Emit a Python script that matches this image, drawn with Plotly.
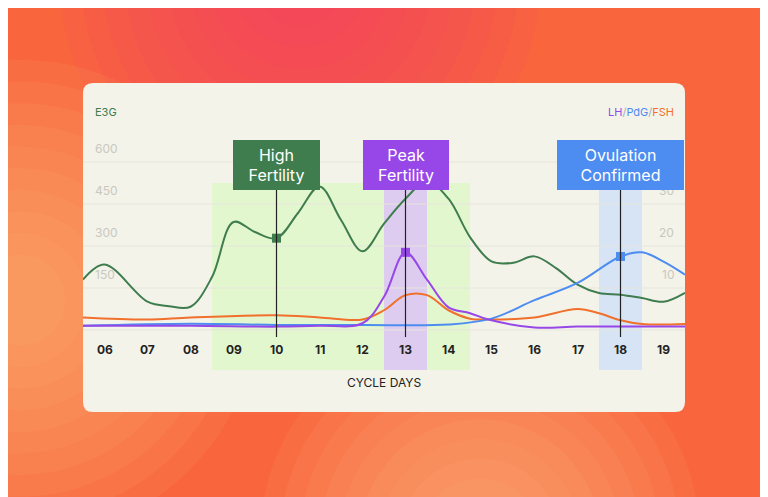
import plotly.graph_objects as go

e3g_x = [5.5,6,7,7.5,8,8.5,9,9.5,10,10.5,11,11.5,12,12.5,13,13.5,14,14.5,15,15.5,16,16.5,17,17.5,18,18.5,19,19.5]
e3g_y = [180,234,101,85,83,189,386,350,328,418,513,393,281,380,469,531,469,332,245,240,263,221,162,132,126,114,101,133]
lh_x = [5.5,8,10,11,12,12.5,13,13.5,14,14.5,15,16,17,18,19.5]
lh_y = [1,1,0.8,1,1.6,7.9,18.5,12,5.4,4,2.3,0.6,0.8,0.8,0.8]
fsh_x = [5.5,7,8,10,11,12,12.5,13,13.5,14,14.5,15,16,17,17.5,18,18.5,19.5]
fsh_y = [3,2.5,3,3.5,3,2.5,4.7,8.3,8.3,4.7,2.7,2.5,3,5,4,2.3,1.4,1.4]
pdg_x = [5.5,8,10,12,14,15,16,17,18,18.5,19,19.5]
pdg_y = [1,1.5,1.2,1.2,1.3,2.7,7.1,11.2,17.5,18.5,16.3,13.2]
days = ["06","07","08","09","10","11","12","13","14","15","16","17","18","19"]
left_ticks = [150,300,450,600]
right_ticks = [10,20,30]

GREEN, PURPLE, BLUE, ORANGE = "#3f7d4f", "#9747e8", "#4d8cf0", "#f0702c"
fig = go.Figure()
shapes = []
def blob(cx, cy, r, color, n=10, op=0.09):
    for i in range(n):
        rr = r*(1-i*0.09)
        shapes.append(dict(type="circle", xref="paper", yref="paper", layer="below",
            x0=(cx-rr-83)/602, x1=(cx+rr-83)/602, y0=(370-cy-rr)/246, y1=(370-cy+rr)/246,
            fillcolor=color, opacity=op, line_width=0))
blob(300, -20, 240, "#f2386e")
blob(20, 300, 240, "#fbc277")
blob(480, 540, 220, "#fdba8a")
dx, dy = 10/602, 10/246
x0, x1, y0, y1 = 0, 1, -0.171, 1.167
path = (f"M {x0+dx},{y0} L {x1-dx},{y0} Q {x1},{y0} {x1},{y0+dy} L {x1},{y1-dy} Q {x1},{y1} {x1-dx},{y1} "
        f"L {x0+dx},{y1} Q {x0},{y1} {x0},{y1-dy} L {x0},{y0+dy} Q {x0},{y0} {x0+dx},{y0} Z")
shapes.append(dict(type="path", path=path, xref="paper", yref="paper", layer="below",
                   fillcolor="#f4f3ea", line_width=0))
shapes.append(dict(type="rect", xref="x", yref="paper", x0=8.5, x1=14.5, y0=0, y1=0.76,
                   fillcolor="#dff7c8", opacity=0.8, line_width=0, layer="below"))
shapes.append(dict(type="rect", xref="x", yref="paper", x0=12.5, x1=13.5, y0=0, y1=0.78,
                   fillcolor="#dcc6f2", opacity=0.9, line_width=0, layer="below"))
shapes.append(dict(type="rect", xref="x", yref="paper", x0=17.5, x1=18.5, y0=0, y1=0.81,
                   fillcolor="#d3e2f6", opacity=0.9, line_width=0, layer="below"))
for v in [0,150,300,450,600,750]:
    shapes.append(dict(type="line", xref="paper", yref="y", x0=0, x1=1, y0=v, y1=v,
                       line=dict(color="#e6e5dc", width=1), layer="below"))
for xd in [10, 13, 18]:
    shapes.append(dict(type="line", xref="x", yref="paper", x0=xd, x1=xd, y0=0.134, y1=0.837,
                       line=dict(color="#222", width=1.2)))

fig.add_trace(go.Scatter(x=fsh_x, y=fsh_y, yaxis="y2", mode="lines", line=dict(color=ORANGE, width=2, shape="spline")))
fig.add_trace(go.Scatter(x=pdg_x, y=pdg_y, yaxis="y2", mode="lines", line=dict(color=BLUE, width=2, shape="spline")))
fig.add_trace(go.Scatter(x=lh_x, y=lh_y, yaxis="y2", mode="lines", line=dict(color=PURPLE, width=2, shape="spline")))
fig.add_trace(go.Scatter(x=e3g_x, y=e3g_y, mode="lines", line=dict(color=GREEN, width=2, shape="spline")))
fig.add_trace(go.Scatter(x=[10], y=[328], mode="markers", marker=dict(symbol="square", size=9, color=GREEN)))
fig.add_trace(go.Scatter(x=[13], y=[18.5], yaxis="y2", mode="markers", marker=dict(symbol="square", size=9, color=PURPLE)))
fig.add_trace(go.Scatter(x=[18], y=[17.5], yaxis="y2", mode="markers", marker=dict(symbol="square", size=9, color=BLUE)))

ann = []
for i, d in enumerate(days):
    ann.append(dict(x=6+i, y=-71, text=f"<b>{d}</b>", showarrow=False, font=dict(size=12, color="#222", family="Inter"),
                    xref="x", yref="y"))
for v in left_ticks:
    ann.append(dict(x=0.017, y=v, xref="paper", yref="y", text=str(v), showarrow=False, xanchor="left",
                    yanchor="bottom", yshift=4, font=dict(size=12, color="#c9c8be", family="Inter")))
for v in right_ticks:
    ann.append(dict(x=0.985, y=v, xref="paper", yref="y2", text=str(v), showarrow=False, xanchor="right",
                    yanchor="bottom", yshift=4, font=dict(size=12, color="#c9c8be", family="Inter")))
ann.append(dict(x=0.017, y=(370-103)/246, xref="paper", yref="paper", text="E3G", showarrow=False,
                xanchor="left", font=dict(size=11, color=GREEN, family="Inter")))
ann.append(dict(x=0.985, y=(370-103)/246, xref="paper", yref="paper", showarrow=False, xanchor="right",
                text=f"<span style='color:{PURPLE}'>LH</span><span style='color:#aab'>/</span><span style='color:{BLUE}'>PdG</span><span style='color:#aab'>/</span><span style='color:{ORANGE}'>FSH</span>",
                font=dict(size=11, family="Inter")))
ann.append(dict(x=0.5, y=(370-392)/246, xref="paper", yref="paper", text="CYCLE DAYS", showarrow=False,
                font=dict(size=12, color="#222", family="Inter")))
for xd, txt, col, w in [(10, "High<br>Fertility", GREEN, 81), (13, "Peak<br>Fertility", PURPLE, 80),
                        (18, "Ovulation<br>Confirmed", BLUE, 121)]:
    ann.append(dict(x=xd, y=(370-140)/246, xref="x", yref="paper", text=txt, showarrow=False,
                    bgcolor=col, bordercolor=col, borderpad=2, width=w, height=44,
                    font=dict(size=16, color="white", family="Inter")))

fig.update_layout(
    width=768, height=497, margin=dict(l=75, r=91, t=116, b=135),
    paper_bgcolor="#f9663d", plot_bgcolor="rgba(0,0,0,0)", showlegend=False,
    xaxis=dict(range=[5.5, 19.5], visible=False),
    yaxis=dict(range=[-143, 736], visible=False),
    yaxis2=dict(range=[-143/15, 736/15], overlaying="y", visible=False),
    shapes=shapes, annotations=ann,
)
fig.write_html("out.html")
